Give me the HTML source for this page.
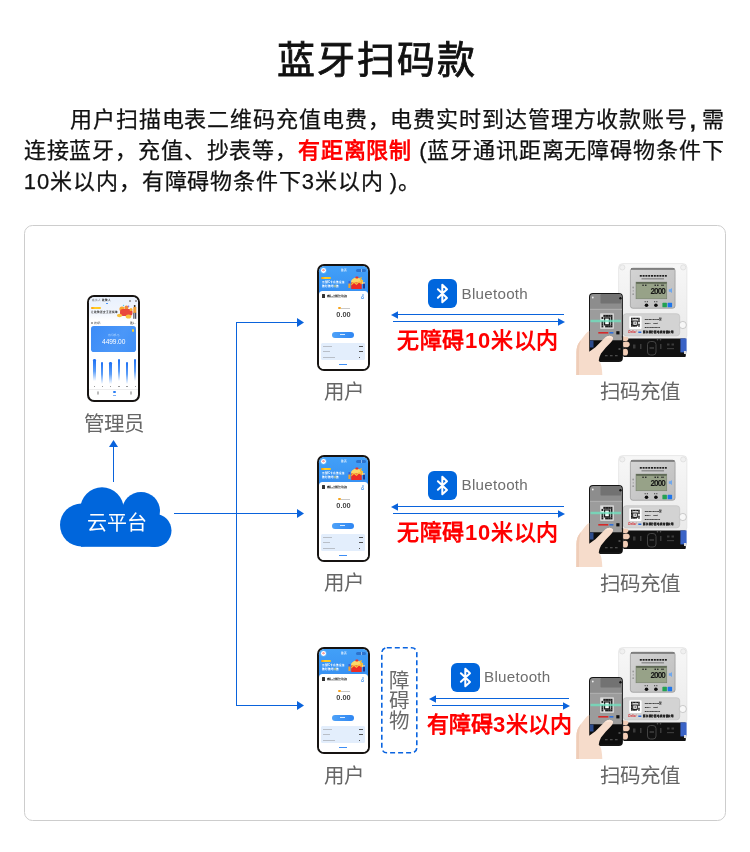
<!DOCTYPE html>
<html lang="zh-CN">
<head>
<meta charset="utf-8">
<style>
*{margin:0;padding:0;box-sizing:border-box}
html,body{width:750px;height:852px;background:#fff;overflow:hidden}
body{position:relative;font-family:"Liberation Sans",sans-serif;color:#111}
.a{position:absolute}
#title{left:2px;width:750px;top:30px;text-align:center;font-size:38px;line-height:60px;color:#111;-webkit-text-stroke:0.8px #111;letter-spacing:2px}
#para{left:23.7px;width:700.3px;top:104px;font-size:22px;line-height:31px;text-indent:46.3px;text-align:justify;color:#111;letter-spacing:0.4px;-webkit-text-stroke:0.25px #111}
#para .l3{letter-spacing:0.85px}
#para .dg{letter-spacing:1.1px}
#para .r{color:#ff0000;font-weight:bold;-webkit-text-stroke:0}
#box{left:24px;top:225px;width:702px;height:596px;border:1.3px solid #cdcdcd;border-radius:8.5px}
.lbl{position:absolute;font-size:20.5px;line-height:24px;color:#666;white-space:nowrap}
.bl{background:#0a63dc}
/* phone */
.up{position:absolute;width:53px;height:107px;background:#161311;border-radius:7px}
.up div{position:absolute}
.up .scr{left:1.9px;top:1.9px;right:1.9px;bottom:1.9px;background:#fff;border-radius:5.2px;overflow:hidden}
.uhd{left:0;top:0;width:100%;height:28px;background:linear-gradient(180deg,#42a0f8,#3790f2)}
.av{left:1.9px;top:2.4px;width:4.8px;height:4.8px;border-radius:50%;background:radial-gradient(circle at 50% 45%,#f6a0a0 0 1px,#fff 1.4px);box-shadow:0 0 0 0.8px #5ab0fa}
.tt{left:0;width:100%;top:3.3px;text-align:center;font-size:2.6px;line-height:3px;color:#fff;font-weight:bold}
.cap{left:37.6px;top:3.2px;width:9.3px;height:3.1px;border-radius:2px;background:#2c72cc}
.capd{left:42.1px;top:3.6px;width:0.4px;height:2.3px;background:#8ab8ee}
.otag{width:9.8px;height:2.4px;border-radius:1.2px;background:linear-gradient(90deg,#ff9800,#ffcf2a 40%,#ffc21a)}
.wt{font-size:2.55px;line-height:4px;letter-spacing:-0.05px;color:#fff;white-space:nowrap;font-weight:bold;transform:translateZ(0)}
.at{font-size:2.5px;line-height:3px;white-space:nowrap;transform:translateZ(0)}
.ill{position:absolute;left:28.5px;top:10.5px}
.ylw{background:#f8d44a}
.xill1{left:30.5px;top:17px;width:12px;height:8px;background:#e5262c;border-radius:1px}
.xill2{left:31px;top:11.3px;width:13px;height:6.5px;background:#f6c344;border-radius:3px 3px 1px 1px}
.xill3{left:27px;top:15px;width:3px;height:9px;background:#f2a33a;border-radius:1px}
.card{left:0;top:25px;width:100%;height:90px;background:#fff;border-radius:3.5px 3.5px 0 0}
.ci{left:3.4px;top:28.4px;width:2.6px;height:4.2px;background:#333;border-radius:0.5px}
.ct{left:8.5px;top:28.7px;font-size:2.1px;line-height:2.5px;font-weight:bold;color:#222;white-space:nowrap;transform:translateZ(0)}
.cs{left:8.7px;top:31.6px;width:13px;height:1px;background:#ccc}
.ph{left:43.1px;top:28.2px;width:1.8px;height:1.8px;border-radius:50%;border:0.6px solid #6aaaf2}
.pb{left:42.6px;top:30.3px;width:2.8px;height:3.2px;border:0.6px solid #6aaaf2;border-radius:1.2px 1.2px 0 0}
.od{left:19.5px;top:41.2px;width:2.2px;height:2.2px;border-radius:50%;background:#f7a41c}
.gt{left:22.5px;top:41.9px;width:8.3px;height:1px;background:#c8c8c8}
.amt{transform:translateZ(0);left:0;width:100%;top:44.7px;text-align:center;font-size:7.4px;line-height:8px;font-weight:bold;color:#444}
.btn{left:12.8px;top:66px;width:22.7px;height:6.3px;border-radius:3.2px;background:linear-gradient(90deg,#4ea2f8,#2f86f2)}
.btt{left:8.8px;top:2.6px;width:5px;height:1px;background:#d8eaff}
.pnl{left:2.6px;top:77.2px;width:43.2px;height:16.7px;border-radius:1.5px;background:#e3eefc}
.pl{left:4.5px;width:9px;height:1px;background:#b9bfc8}
.pr{left:40px;width:4px;height:1.2px;background:#555}
.bt{left:20.5px;top:97.8px;width:7.3px;height:1.2px;background:#3d8ef5}
/* admin */
.ahd{left:0;top:0;width:100%;height:24px;background:linear-gradient(180deg,#e9f1fd,#f2f6fd 70%,#fff)}
.tb{height:1.8px;background:#777}
.ic{width:1.8px;height:1.8px;border-radius:50%;background:#888}
.ai1{left:28.7px;top:11px;width:13px;height:7px;background:#e8473a;border-radius:3px}
.ai2{left:30.5px;top:7.5px;width:10px;height:5px;background:#f6a63a;border-radius:50%}
.ai3{left:28.5px;top:15.5px;width:6px;height:3.8px;background:#f8c84a;border-radius:50%}
.ai4{left:42.8px;top:7px;width:3.5px;height:13px;background:linear-gradient(180deg,#e98a3a,#333);border-radius:1px}
.bc{left:1.8px;top:29px;width:45.3px;height:26.4px;border-radius:2.8px;background:linear-gradient(120deg,#3c8cf7,#4b97f8 60%,#3f8ff7)}
.yd{left:42.6px;top:32.4px;width:2.8px;height:2.8px;border-radius:50%;background:radial-gradient(circle,#f9d030 0 1px,#f2b81a 1.4px)}
.bcl{left:0;width:100%;top:37.6px;text-align:center;font-size:2.2px;line-height:2.5px;color:#a9d0fd;transform:translateZ(0)}
.bamt{transform:translateZ(0);left:0;width:100%;top:40.9px;text-align:center;font-size:6.6px;line-height:7px;color:#fff;letter-spacing:-0.1px}
.bar{width:2.3px;height:22px;border-radius:1.2px 1.2px 0 0;background:linear-gradient(180deg,#1c6ff4,#5c9ef8 55%,rgba(255,255,255,0))}
.xl{top:89.3px;width:1.3px;height:0.8px;background:#999}
.dv{left:0;top:92.5px;width:100%;height:0.6px;background:#eee}
.nv{top:94.5px;width:2px;height:4px;border:0.6px solid #bbb;border-radius:1px}
.nvb{left:24.4px;top:94.2px;width:2.5px;height:2.5px;border-radius:50%;background:#2a7ef5}
.nvl{left:24.2px;top:97.8px;width:3px;height:0.7px;background:#7fb0f5}
/* meter */
.mb{position:absolute;left:618.6px;top:263.6px;width:68.3px;height:76px;background:linear-gradient(180deg,#f6f6f6,#ececec);border-radius:4px;box-shadow:inset 0 0 0 0.6px #ddd}
.scw{position:absolute;width:5px;height:5px;border-radius:50%;border:0.6px solid #d8d8d8;background:#f3f3f3}
.dp{position:absolute;left:630.4px;top:268.2px;width:44.7px;height:40px;border-radius:2.5px;background:linear-gradient(160deg,#cfcfcf,#c2c2c2);border-top:1.2px solid #606060;box-shadow:inset 0 0 0 0.6px #999}
.dpt{position:absolute;left:639.5px;top:275.2px;width:27px;height:1.6px;background:repeating-linear-gradient(90deg,#222 0 2px,#c8c8c8 2px 2.7px)}
.dpt2{position:absolute;left:641px;top:278.5px;width:23px;height:1px;background:#777}
.lcd{position:absolute;left:636px;top:282.1px;width:30.8px;height:16.7px;background:#a9b49b;box-shadow:inset 0 0 0 0.6px #7a8570}
.lcdd{position:absolute;right:2.5px;top:4.2px;font-size:9px;line-height:9px;font-weight:bold;font-style:italic;color:#1a1a1a;letter-spacing:-0.3px}
.lcl{position:absolute;height:1px;background:#333}
.bi{position:absolute;left:669.5px;top:289px;width:2.5px;height:3px;background:#6aa6ef}
.btb{position:absolute;width:3.4px;height:3.4px;border-radius:50%;background:#111}
.bbl{position:absolute;width:3.4px;height:0.9px;background:#333}
.sq{position:absolute;top:302.8px;width:4.4px;height:4.4px;border-radius:0.6px}
.lp{position:absolute;left:623.2px;top:313.7px;width:56.5px;height:22.1px;border-radius:3px;background:#d4d4d4;box-shadow:inset 0 0 0 0.7px #c0c0c0}
.qr{position:absolute;left:629.4px;top:316.3px;width:11.8px;height:12.3px;background:#fff}
.qri{position:absolute;left:1.6px;top:1.6px;width:8.6px;height:9px;background:repeating-linear-gradient(0deg,#222 0 1.2px,#777 1.2px 2px),#333}
.qrc{position:absolute;left:3.7px;top:4px;width:4.4px;height:4.4px;border:1px solid #fff;background:#222}
.lt{position:absolute;left:645px;height:1px;background:linear-gradient(90deg,#666 0 45%,transparent 45% 60%,#666 60%)}
.lg{position:absolute;height:1.5px}
.knob{position:absolute;left:679px;top:321.3px;width:7.4px;height:7.4px;border-radius:50%;border:0.7px solid #bbb;background:#f6f6f6}
.term{position:absolute;left:623.2px;top:338.4px;width:62.6px;height:18.4px;background:#121212;border-radius:0 0 1px 1px}
.tbl{position:absolute;left:680.5px;top:338.4px;width:6px;height:14px;background:linear-gradient(180deg,#3a63c6,#2a4aa0)}
.tc1{position:absolute;left:647.5px;top:342px;width:8.5px;height:13px;border:0.8px solid #555;border-radius:3px}
.tc2{position:absolute;left:633px;top:345px;width:2.5px;height:4px;background:#444}
/* bt */
.bti{position:absolute;width:29px;height:28.5px;border-radius:6px;background:#0066dd}
.bti svg{position:absolute;left:0;top:0}
.btx{position:absolute;font-size:15.2px;line-height:20px;color:#6e6e6e;white-space:nowrap;letter-spacing:0.25px}
.rt{position:absolute;font-size:22px;line-height:30px;font-weight:bold;color:#ff0000;white-space:nowrap}
.obs{position:absolute;left:381px;top:647.4px;width:36px;height:106px;border:1.5px dashed #2a76dc;border-radius:5px}
.obt{position:absolute;left:389px;top:670.8px;width:22px;font-size:20.5px;line-height:20px;color:#6a6a6a}
</style>
</head>
<body>
<div id="root" style="position:absolute;left:0;top:0;width:750px;height:852px;transform:translateZ(0)">
<div id="title" class="a">蓝牙扫码款</div>
<div id="para" class="a">用户扫描电表二维码充值电费，电费实时到达管理方收款账号<span style="font-weight:bold;position:relative;left:1.6px;top:0.5px">,</span> 需连接蓝牙，充值、抄表等，<span class="r">有距离限制</span> (蓝牙通讯距离无障碍物条件下<span class="l3"><span class="dg">10</span>米以内，有障碍物条件下<span class="dg">3</span>米以内<span style="letter-spacing:0px"> </span>)。</span></div>
<div id="box" class="a"></div>

<!-- connectors -->
<div class="a bl" style="left:112.9px;top:446px;width:1.3px;height:36px"></div>
<svg class="a" style="left:108px;top:439px" width="11" height="9"><path d="M5.5 1 L10 8 L1 8Z" fill="#0a63dc"/></svg>
<div class="a bl" style="left:235.9px;top:322px;width:1.3px;height:384px"></div>
<div class="a bl" style="left:235.9px;top:321.8px;width:62px;height:1.3px"></div>
<div class="a bl" style="left:174px;top:512.9px;width:124px;height:1.3px"></div>
<div class="a bl" style="left:235.9px;top:704.8px;width:62px;height:1.3px"></div>
<svg class="a" style="left:296px;top:317px" width="9" height="11"><path d="M1 1 L8 5.5 L1 10Z" fill="#0a63dc"/></svg>
<svg class="a" style="left:296px;top:508px" width="9" height="11"><path d="M1 1 L8 5.5 L1 10Z" fill="#0a63dc"/></svg>
<svg class="a" style="left:296px;top:700px" width="9" height="11"><path d="M1 1 L8 5.5 L1 10Z" fill="#0a63dc"/></svg>

<!-- cloud -->
<svg class="a" style="left:0;top:480px" width="200" height="80" viewBox="0 480 200 80">
<g fill="#0066dc">
<circle cx="81.5" cy="525" r="21.5"/>
<circle cx="102" cy="509" r="21.7"/>
<circle cx="141" cy="511" r="19"/>
<circle cx="155" cy="530.5" r="16.5"/>
<rect x="81" y="510" width="74" height="36.8"/>
</g>
</svg>
<div class="a" style="left:60.6px;width:112px;top:510.8px;text-align:center;font-size:20px;line-height:24px;color:#fff">云平台</div>

<div class="up" style="left:87.2px;top:294.9px">
<div class="scr">
<div class="ahd"></div>
<div class="at" style="left:2.6px;top:2.2px;color:#555">充值人</div>
<div class="at" style="left:13px;top:2.2px;color:#222;font-weight:bold">收款人</div>
<div class="bl" style="position:absolute;left:16.5px;top:6.2px;width:2.6px;height:0.9px;border-radius:1px;background:#3b8cf5"></div>
<div class="ic" style="left:40.2px;top:3.3px"></div><div class="ic" style="left:45.7px;top:3.3px"></div>
<div class="otag" style="left:1.6px;top:10.3px;width:10.4px"></div>
<div class="at" style="left:1.6px;top:14.6px;color:#333;font-weight:bold;font-size:2.6px">让收款更安全更简单</div>
<svg class="ill" style="left:26.5px;top:7px" width="22" height="16" viewBox="0 0 22 16">
<circle cx="6" cy="5" r="2.6" fill="#f7a531"/><circle cx="10.5" cy="3.5" r="2" fill="#f08a3a"/>
<rect x="4" y="5" width="12.5" height="7" rx="3" fill="#e9473b"/>
<ellipse cx="3.5" cy="11.5" rx="2.6" ry="1.8" fill="#f8c23d"/>
<ellipse cx="12.5" cy="12.5" rx="2.8" ry="2" fill="#f8c23d"/>
<circle cx="15" cy="5.5" r="1.5" fill="#f6b23a"/>
<circle cx="12.5" cy="2.2" r="0.8" fill="#8c6ae8"/><circle cx="7.5" cy="1.5" r="0.7" fill="#5cc8e8"/>
<rect x="17.8" y="1" width="1.8" height="2" rx="0.8" fill="#3a2a1a"/>
<rect x="17.3" y="3" width="3" height="6" fill="#f0a03a"/>
<rect x="17.4" y="8.8" width="1" height="6" fill="#2a2a3a"/><rect x="19.2" y="8.8" width="1" height="6" fill="#2a2a3a"/>
</svg>
<div class="ic" style="left:1.7px;top:25.3px;width:2.2px;height:2.2px;background:#fff;border:0.5px solid #666"></div>
<div class="at" style="left:4.8px;top:25px;color:#555;font-size:2.4px">收款码</div>
<div class="at" style="left:40.5px;top:25px;color:#333;font-size:2.4px">更多 &gt;</div>
<div class="bc"></div><div class="yd"></div>
<div class="bcl">账户余额(元)</div>
<div class="bamt">4499.00</div>
<div class="bar" style="left:4.2px;top:62.4px"></div>
<div class="bar" style="left:12.1px;top:65px"></div>
<div class="bar" style="left:20.4px;top:65px"></div>
<div class="bar" style="left:28.7px;top:62.4px"></div>
<div class="bar" style="left:36.7px;top:65px"></div>
<div class="bar" style="left:45px;top:62.4px"></div>
<div class="xl" style="left:4.8px"></div><div class="xl" style="left:12.7px"></div><div class="xl" style="left:21px"></div>
<div class="xl" style="left:29.3px"></div><div class="xl" style="left:37.3px"></div><div class="xl" style="left:45.6px"></div>
<div class="dv"></div>
<div class="nv" style="left:7.5px"></div>
<div class="nvb"></div><div class="nvl"></div>
<div class="nv" style="left:40.5px"></div>
</div></div>
<div class="lbl" style="left:84px;top:411.5px">管理员</div>

<div class="up" style="left:317px;top:264px">
<div class="scr">
<div class="uhd"></div>
<div class="av"></div><div class="tt">首页</div><div class="cap"></div><div class="capd"></div>
<div class="otag" style="left:2.6px;top:11.2px"></div>
<div class="wt" style="left:2.8px;top:14.8px">无需IC卡充值设备</div>
<div class="wt" style="left:2.8px;top:19.3px">随时随地<span style="color:#f9dc5c">充</span>值</div>
<svg class="ill" width="20" height="14" viewBox="0 0 20 14">
<rect x="1.5" y="5" width="1.8" height="3" fill="#3a63d6"/><rect x="1.4" y="7.5" width="2" height="4.5" fill="#f4a12c"/>
<path d="M4 5 Q6 1.5 9.5 1.5 Q13 1.5 15.5 4 L16.5 8 L4.5 8Z" fill="#fbd86a"/>
<rect x="8.3" y="0.5" width="3.2" height="2" rx="1" fill="#e8302b"/>
<rect x="4.2" y="6.5" width="10.5" height="6.5" fill="#ec2b26"/>
<path d="M4.2 9.5 L7 7 L9.5 9 L12 6.5 L14.7 8.5 L14.7 7 L12 5 L9.5 7.4 L7 5.5 L4.2 8Z" fill="#f8c23d"/>
<path d="M12.5 2 L15 1 L14 4 L16.5 4.5 L14 7 Z" fill="#f6b72f"/>
<rect x="16" y="7.5" width="2" height="5" fill="#243a8e"/><circle cx="17" cy="6.8" r="0.9" fill="#f1c7a2"/>
</svg>
<div class="card"></div>
<div class="ci"></div><div class="ct">睿眼IC卡缴费专用设备</div><div class="cs"></div>
<div class="ph"></div><div class="pb"></div>
<div class="od"></div><div class="gt"></div>
<div class="amt">0.00</div>
<div class="btn"><div class="btt"></div></div>
<div class="pnl"></div>
<div class="pl" style="top:80px"></div><div class="pr" style="top:80px"></div>
<div class="pl" style="top:85.1px;width:7px"></div><div class="pr" style="top:85.1px;width:4.5px"></div>
<div class="pl" style="top:90.7px;width:12px"></div><div class="pr" style="top:90.7px;width:1.5px"></div>
<div class="bt"></div>
</div></div>
<div class="up" style="left:317px;top:455px">
<div class="scr">
<div class="uhd"></div>
<div class="av"></div><div class="tt">首页</div><div class="cap"></div><div class="capd"></div>
<div class="otag" style="left:2.6px;top:11.2px"></div>
<div class="wt" style="left:2.8px;top:14.8px">无需IC卡充值设备</div>
<div class="wt" style="left:2.8px;top:19.3px">随时随地<span style="color:#f9dc5c">充</span>值</div>
<svg class="ill" width="20" height="14" viewBox="0 0 20 14">
<rect x="1.5" y="5" width="1.8" height="3" fill="#3a63d6"/><rect x="1.4" y="7.5" width="2" height="4.5" fill="#f4a12c"/>
<path d="M4 5 Q6 1.5 9.5 1.5 Q13 1.5 15.5 4 L16.5 8 L4.5 8Z" fill="#fbd86a"/>
<rect x="8.3" y="0.5" width="3.2" height="2" rx="1" fill="#e8302b"/>
<rect x="4.2" y="6.5" width="10.5" height="6.5" fill="#ec2b26"/>
<path d="M4.2 9.5 L7 7 L9.5 9 L12 6.5 L14.7 8.5 L14.7 7 L12 5 L9.5 7.4 L7 5.5 L4.2 8Z" fill="#f8c23d"/>
<path d="M12.5 2 L15 1 L14 4 L16.5 4.5 L14 7 Z" fill="#f6b72f"/>
<rect x="16" y="7.5" width="2" height="5" fill="#243a8e"/><circle cx="17" cy="6.8" r="0.9" fill="#f1c7a2"/>
</svg>
<div class="card"></div>
<div class="ci"></div><div class="ct">睿眼IC卡缴费专用设备</div><div class="cs"></div>
<div class="ph"></div><div class="pb"></div>
<div class="od"></div><div class="gt"></div>
<div class="amt">0.00</div>
<div class="btn"><div class="btt"></div></div>
<div class="pnl"></div>
<div class="pl" style="top:80px"></div><div class="pr" style="top:80px"></div>
<div class="pl" style="top:85.1px;width:7px"></div><div class="pr" style="top:85.1px;width:4.5px"></div>
<div class="pl" style="top:90.7px;width:12px"></div><div class="pr" style="top:90.7px;width:1.5px"></div>
<div class="bt"></div>
</div></div>
<div class="up" style="left:317px;top:647px">
<div class="scr">
<div class="uhd"></div>
<div class="av"></div><div class="tt">首页</div><div class="cap"></div><div class="capd"></div>
<div class="otag" style="left:2.6px;top:11.2px"></div>
<div class="wt" style="left:2.8px;top:14.8px">无需IC卡充值设备</div>
<div class="wt" style="left:2.8px;top:19.3px">随时随地<span style="color:#f9dc5c">充</span>值</div>
<svg class="ill" width="20" height="14" viewBox="0 0 20 14">
<rect x="1.5" y="5" width="1.8" height="3" fill="#3a63d6"/><rect x="1.4" y="7.5" width="2" height="4.5" fill="#f4a12c"/>
<path d="M4 5 Q6 1.5 9.5 1.5 Q13 1.5 15.5 4 L16.5 8 L4.5 8Z" fill="#fbd86a"/>
<rect x="8.3" y="0.5" width="3.2" height="2" rx="1" fill="#e8302b"/>
<rect x="4.2" y="6.5" width="10.5" height="6.5" fill="#ec2b26"/>
<path d="M4.2 9.5 L7 7 L9.5 9 L12 6.5 L14.7 8.5 L14.7 7 L12 5 L9.5 7.4 L7 5.5 L4.2 8Z" fill="#f8c23d"/>
<path d="M12.5 2 L15 1 L14 4 L16.5 4.5 L14 7 Z" fill="#f6b72f"/>
<rect x="16" y="7.5" width="2" height="5" fill="#243a8e"/><circle cx="17" cy="6.8" r="0.9" fill="#f1c7a2"/>
</svg>
<div class="card"></div>
<div class="ci"></div><div class="ct">睿眼IC卡缴费专用设备</div><div class="cs"></div>
<div class="ph"></div><div class="pb"></div>
<div class="od"></div><div class="gt"></div>
<div class="amt">0.00</div>
<div class="btn"><div class="btt"></div></div>
<div class="pnl"></div>
<div class="pl" style="top:80px"></div><div class="pr" style="top:80px"></div>
<div class="pl" style="top:85.1px;width:7px"></div><div class="pr" style="top:85.1px;width:4.5px"></div>
<div class="pl" style="top:90.7px;width:12px"></div><div class="pr" style="top:90.7px;width:1.5px"></div>
<div class="bt"></div>
</div></div>
<div class="lbl" style="left:324px;top:380px">用户</div>
<div class="lbl" style="left:324px;top:571px">用户</div>
<div class="lbl" style="left:324px;top:763.5px">用户</div>

<svg class="a" style="left:560px;top:255px;transform:translateZ(0)" width="135" height="125" viewBox="560 255 135 125">
<defs>
<linearGradient id="mbg0" x1="0" y1="0" x2="0" y2="1"><stop offset="0" stop-color="#f7f7f7"/><stop offset="1" stop-color="#eaeaea"/></linearGradient>
<linearGradient id="dpg0" x1="0" y1="0" x2="1" y2="1"><stop offset="0" stop-color="#d4d4d4"/><stop offset="1" stop-color="#bdbdbd"/></linearGradient>
<linearGradient id="scr0" x1="0" y1="0" x2="0" y2="1"><stop offset="0" stop-color="#8c8c8c"/><stop offset="1" stop-color="#9d9d9d"/></linearGradient>
</defs>
<!-- meter body -->
<rect x="618.6" y="263.6" width="68.3" height="76" rx="4" fill="url(#mbg0)" stroke="#dcdcdc" stroke-width="0.6"/>
<circle cx="622.3" cy="267.4" r="2.6" fill="#f0f0f0" stroke="#d6d6d6" stroke-width="0.6"/>
<circle cx="683.2" cy="267.4" r="2.6" fill="#f0f0f0" stroke="#d6d6d6" stroke-width="0.6"/>
<rect x="630.4" y="268.2" width="44.7" height="40.1" rx="2.5" fill="url(#dpg0)" stroke="#8a8a8a" stroke-width="0.6"/>
<rect x="631" y="268.4" width="43.5" height="1.2" fill="#5a5a5a"/>
<g fill="#1e1e1e"><rect x="639.8" y="275" width="2" height="1.7"/><rect x="642.6" y="275" width="2" height="1.7"/><rect x="645.4" y="275" width="2" height="1.7"/><rect x="648.2" y="275" width="2" height="1.7"/><rect x="651" y="275" width="2" height="1.7"/><rect x="653.8" y="275" width="2" height="1.7"/><rect x="656.6" y="275" width="2" height="1.7"/><rect x="659.4" y="275" width="2" height="1.7"/><rect x="662.2" y="275" width="2" height="1.7"/><rect x="665" y="275" width="1.8" height="1.7"/></g>
<rect x="641.5" y="278.4" width="22.5" height="0.9" fill="#6a6a6a"/>
<rect x="636" y="282.1" width="30.8" height="16.7" fill="#97a288" stroke="#6e7864" stroke-width="0.5"/><rect x="636.2" y="282.3" width="30.4" height="1.3" fill="#4f5947"/>
<g fill="#2e2e2e"><rect x="642.3" y="284.6" width="1.5" height="1.4"/><rect x="645" y="284.6" width="1.5" height="1.4"/><rect x="654.5" y="284.6" width="1.5" height="1.4"/><rect x="657" y="284.6" width="1.5" height="1.4"/><rect x="661" y="284.6" width="3" height="1.4" opacity="0.7"/></g>
<text x="665" y="294.2" text-anchor="end" font-family="Liberation Sans" font-weight="bold" font-size="8.2" fill="#141414" letter-spacing="-0.9">2000</text>
<g fill="#9a9a9a"><circle cx="633.2" cy="287.5" r="0.9"/><rect x="632.8" y="290" width="0.8" height="1.6"/><circle cx="633.2" cy="294.2" r="0.9"/></g>
<path d="M668.8 289.3 L670.3 289.3 L672 288 L672 293 L670.3 291.7 L668.8 291.7Z" fill="#6fa8ee"/>
<g fill="#333"><rect x="644.6" y="301.3" width="1.2" height="0.9"/><rect x="646.8" y="301.3" width="1.2" height="0.9"/><rect x="654" y="301.3" width="1.2" height="0.9"/><rect x="656.2" y="301.3" width="1.2" height="0.9"/></g>
<circle cx="646.5" cy="305.3" r="1.8" fill="#0d0d0d"/><circle cx="655.9" cy="305.3" r="1.8" fill="#0d0d0d"/>
<rect x="662.4" y="302.8" width="4.5" height="4.5" rx="0.6" fill="#23a152"/><rect x="667.6" y="302.8" width="4.5" height="4.5" rx="0.6" fill="#1f76ea"/>
<!-- label plate -->
<rect x="623.2" y="313.7" width="56.5" height="22.1" rx="3" fill="#d3d3d3" stroke="#bdbdbd" stroke-width="0.6"/>
<rect x="629.3" y="316.2" width="12.3" height="12.7" rx="0.8" fill="#fff"/>
<g fill="#161616"><rect x="631.00" y="317.70" width="1.45" height="1.5"/><rect x="631.00" y="319.20" width="1.45" height="1.5"/><rect x="631.00" y="320.70" width="1.45" height="1.5"/><rect x="631.00" y="322.20" width="1.45" height="1.5"/><rect x="631.00" y="323.70" width="1.45" height="1.5"/><rect x="631.00" y="325.20" width="1.45" height="1.5"/><rect x="632.45" y="317.70" width="1.45" height="1.5"/><rect x="632.45" y="325.20" width="1.45" height="1.5"/><rect x="633.90" y="317.70" width="1.45" height="1.5"/><rect x="633.90" y="325.20" width="1.45" height="1.5"/><rect x="635.35" y="317.70" width="1.45" height="1.5"/><rect x="635.35" y="325.20" width="1.45" height="1.5"/><rect x="636.80" y="317.70" width="1.45" height="1.5"/><rect x="638.25" y="317.70" width="1.45" height="1.5"/><rect x="638.25" y="319.20" width="1.45" height="1.5"/><rect x="638.25" y="320.70" width="1.45" height="1.5"/><rect x="638.25" y="323.70" width="1.45" height="1.5"/><rect x="638.25" y="325.20" width="1.45" height="1.5"/></g>
<rect x="632.3" y="320.5" width="5.5" height="5.3" fill="#111"/><rect x="633.3" y="321.5" width="3.5" height="3.3" fill="#fff"/><rect x="634.4" y="322.6" width="1.6" height="0.9" fill="#111"/>
<g font-family="Liberation Sans" font-size="2.5" fill="#2a2a2a" stroke="#2a2a2a" stroke-width="0.15"><text x="644.8" y="320.3">DDSD-R1/11型</text><text x="644.8" y="324.1">220V</text><text x="653.5" y="324.1">60A</text><text x="644.8" y="327.8">50Hz</text><text x="650.5" y="327.8">1600imp</text></g>
<text x="628.3" y="333.4" font-family="Liberation Sans" font-size="3" font-weight="bold" font-style="italic" fill="#d8232b">Delixi</text><rect x="638.3" y="331.5" width="3" height="1.5" fill="#2a6ad8"/>
<text x="643" y="333.3" font-family="Liberation Sans" font-size="2.6" font-weight="bold" fill="#222" stroke="#222" stroke-width="0.3" textLength="31" lengthAdjust="spacingAndGlyphs">浙江德力西电表有限公司</text>
<circle cx="682.8" cy="325" r="3.6" fill="#f7f7f7" stroke="#b8b8b8" stroke-width="0.7"/>
<!-- terminal -->
<rect x="623.2" y="338.4" width="62.6" height="18.6" rx="1" fill="#111"/>
<rect x="680.4" y="338.4" width="6.2" height="14" fill="#3a63c6"/>
<rect x="684" y="351" width="2.6" height="3" fill="#ddd"/>
<rect x="647.5" y="341.5" width="8.5" height="13.5" rx="3" fill="none" stroke="#4a4a4a" stroke-width="0.9"/>
<rect x="649.5" y="347" width="4.5" height="2" fill="#333"/>
<g fill="#3a3a3a"><rect x="633" y="344.5" width="2.5" height="4"/><rect x="640" y="344" width="1.5" height="5"/><rect x="660" y="344" width="1.5" height="5"/><rect x="667" y="343.5" width="2.5" height="2"/><rect x="671.5" y="343.5" width="2.5" height="2"/><rect x="667" y="348" width="7" height="1.2"/></g>
<g fill="#555"><circle cx="657.5" cy="339.8" r="0.8"/><circle cx="660.5" cy="339.8" r="0.8"/></g>
<!-- phone -->
<rect x="589" y="293.1" width="33.9" height="69" rx="4" fill="#161616"/>
<rect x="590" y="294.1" width="31.9" height="67" rx="3.2" fill="#1b1b1b"/>
<path d="M590 308.5 L590 297.3 Q590 294.1 593.2 294.1 L618.7 294.1 Q621.9 294.1 621.9 297.3 L621.9 308.5Z" fill="#8d8d8d"/>
<rect x="600.5" y="294.1" width="20.5" height="9.5" rx="1.2" fill="#727272"/>
<circle cx="592.8" cy="297.5" r="0.9" fill="#eee"/>
<circle cx="620.5" cy="298.3" r="1.2" fill="#111"/>
<rect x="590" y="308.5" width="31.9" height="32" fill="#9c9c9c"/>
<rect x="590" y="308.5" width="31.9" height="1.5" fill="#adadad"/>
<rect x="600" y="313.3" width="14" height="15.6" rx="0.8" fill="#d2d2d2"/>
<rect x="601.2" y="314.5" width="11.6" height="13.2" fill="#e6e6e6"/>
<g fill="#1d1d1d"><rect x="601.50" y="316.90" width="1.83" height="2.1"/><rect x="601.50" y="321.10" width="1.83" height="2.1"/><rect x="601.50" y="323.20" width="1.83" height="2.1"/><rect x="601.50" y="325.30" width="1.83" height="2.1"/><rect x="603.33" y="314.80" width="1.83" height="2.1"/><rect x="605.16" y="314.80" width="1.83" height="2.1"/><rect x="605.16" y="325.30" width="1.83" height="2.1"/><rect x="606.99" y="314.80" width="1.83" height="2.1"/><rect x="606.99" y="325.30" width="1.83" height="2.1"/><rect x="608.82" y="314.80" width="1.83" height="2.1"/><rect x="608.82" y="325.30" width="1.83" height="2.1"/><rect x="610.65" y="314.80" width="1.83" height="2.1"/><rect x="610.65" y="316.90" width="1.83" height="2.1"/><rect x="610.65" y="319.00" width="1.83" height="2.1"/><rect x="610.65" y="321.10" width="1.83" height="2.1"/><rect x="610.65" y="323.20" width="1.83" height="2.1"/><rect x="610.65" y="325.30" width="1.83" height="2.1"/></g>
<rect x="604" y="317.3" width="6" height="8.2" fill="#1a1a1a"/><rect x="605.2" y="318.6" width="3.6" height="5.6" fill="#fafafa"/>
<rect x="590.5" y="320.2" width="30.5" height="1.6" fill="#6ee3bf" opacity="0.85"/>
<rect x="590.5" y="319.2" width="30.5" height="3.6" fill="#6ee3bf" opacity="0.25"/>
<rect x="598.3" y="332" width="10" height="1.6" fill="#d42a2a"/>
<rect x="609.4" y="332" width="4" height="1.6" fill="#3070d8"/>
<rect x="616.3" y="331.2" width="3.2" height="3.2" fill="#111"/>
<rect x="590" y="340.5" width="31.9" height="20" fill="#0e0e0e"/>
<rect x="590" y="340.5" width="3.5" height="7" fill="#2c4b8c"/>
<g fill="#4a4a4a"><rect x="605" y="355" width="2.6" height="1.3"/><rect x="610" y="355" width="2.6" height="1.3"/><rect x="615" y="355" width="2.6" height="1.3"/><rect x="618.5" y="348" width="2" height="2"/></g>
<!-- hand -->
<path d="M576.3 375 L576.4 352 Q576.5 345.5 579.8 341.5 L585.5 334 Q587.5 331.5 589.2 331 L589.2 351.8 L595.4 347.2 L604.9 337.7 Q607.8 335.5 610.4 335.9 Q613.3 336.5 613 338.8 Q612.7 340.6 611 342.2 L605.9 347.6 L601 353.6 Q599 357.5 598.7 360.5 L600.2 362.4 Q602 366 602.3 375Z" fill="#f6dccb"/>
<path d="M576.3 375 L576.4 352 Q576.5 345.5 579.8 341.5 L581 340 Q579 346 579 352 L579 375Z" fill="#efcdb8"/>
<path d="M604.9 337.7 Q607.8 335.5 610.4 335.9 Q613.3 336.5 613 338.8 Q611 337.2 607.5 338.2Z" fill="#fbe6d8"/>
<ellipse cx="625" cy="338.7" rx="3.4" ry="2.3" fill="#f2cdb6"/>
<ellipse cx="626" cy="344.4" rx="3.7" ry="2.8" fill="#f2cdb6"/>
<ellipse cx="625.2" cy="352.2" rx="2.8" ry="3.4" fill="#f2cdb6"/>
<rect x="621.9" y="336" width="1.2" height="20" fill="#161616"/>
</svg>
<svg class="a" style="left:560px;top:447px;transform:translateZ(0)" width="135" height="125" viewBox="560 255 135 125">
<defs>
<linearGradient id="mbg192" x1="0" y1="0" x2="0" y2="1"><stop offset="0" stop-color="#f7f7f7"/><stop offset="1" stop-color="#eaeaea"/></linearGradient>
<linearGradient id="dpg192" x1="0" y1="0" x2="1" y2="1"><stop offset="0" stop-color="#d4d4d4"/><stop offset="1" stop-color="#bdbdbd"/></linearGradient>
<linearGradient id="scr192" x1="0" y1="0" x2="0" y2="1"><stop offset="0" stop-color="#8c8c8c"/><stop offset="1" stop-color="#9d9d9d"/></linearGradient>
</defs>
<!-- meter body -->
<rect x="618.6" y="263.6" width="68.3" height="76" rx="4" fill="url(#mbg192)" stroke="#dcdcdc" stroke-width="0.6"/>
<circle cx="622.3" cy="267.4" r="2.6" fill="#f0f0f0" stroke="#d6d6d6" stroke-width="0.6"/>
<circle cx="683.2" cy="267.4" r="2.6" fill="#f0f0f0" stroke="#d6d6d6" stroke-width="0.6"/>
<rect x="630.4" y="268.2" width="44.7" height="40.1" rx="2.5" fill="url(#dpg192)" stroke="#8a8a8a" stroke-width="0.6"/>
<rect x="631" y="268.4" width="43.5" height="1.2" fill="#5a5a5a"/>
<g fill="#1e1e1e"><rect x="639.8" y="275" width="2" height="1.7"/><rect x="642.6" y="275" width="2" height="1.7"/><rect x="645.4" y="275" width="2" height="1.7"/><rect x="648.2" y="275" width="2" height="1.7"/><rect x="651" y="275" width="2" height="1.7"/><rect x="653.8" y="275" width="2" height="1.7"/><rect x="656.6" y="275" width="2" height="1.7"/><rect x="659.4" y="275" width="2" height="1.7"/><rect x="662.2" y="275" width="2" height="1.7"/><rect x="665" y="275" width="1.8" height="1.7"/></g>
<rect x="641.5" y="278.4" width="22.5" height="0.9" fill="#6a6a6a"/>
<rect x="636" y="282.1" width="30.8" height="16.7" fill="#97a288" stroke="#6e7864" stroke-width="0.5"/><rect x="636.2" y="282.3" width="30.4" height="1.3" fill="#4f5947"/>
<g fill="#2e2e2e"><rect x="642.3" y="284.6" width="1.5" height="1.4"/><rect x="645" y="284.6" width="1.5" height="1.4"/><rect x="654.5" y="284.6" width="1.5" height="1.4"/><rect x="657" y="284.6" width="1.5" height="1.4"/><rect x="661" y="284.6" width="3" height="1.4" opacity="0.7"/></g>
<text x="665" y="294.2" text-anchor="end" font-family="Liberation Sans" font-weight="bold" font-size="8.2" fill="#141414" letter-spacing="-0.9">2000</text>
<g fill="#9a9a9a"><circle cx="633.2" cy="287.5" r="0.9"/><rect x="632.8" y="290" width="0.8" height="1.6"/><circle cx="633.2" cy="294.2" r="0.9"/></g>
<path d="M668.8 289.3 L670.3 289.3 L672 288 L672 293 L670.3 291.7 L668.8 291.7Z" fill="#6fa8ee"/>
<g fill="#333"><rect x="644.6" y="301.3" width="1.2" height="0.9"/><rect x="646.8" y="301.3" width="1.2" height="0.9"/><rect x="654" y="301.3" width="1.2" height="0.9"/><rect x="656.2" y="301.3" width="1.2" height="0.9"/></g>
<circle cx="646.5" cy="305.3" r="1.8" fill="#0d0d0d"/><circle cx="655.9" cy="305.3" r="1.8" fill="#0d0d0d"/>
<rect x="662.4" y="302.8" width="4.5" height="4.5" rx="0.6" fill="#23a152"/><rect x="667.6" y="302.8" width="4.5" height="4.5" rx="0.6" fill="#1f76ea"/>
<!-- label plate -->
<rect x="623.2" y="313.7" width="56.5" height="22.1" rx="3" fill="#d3d3d3" stroke="#bdbdbd" stroke-width="0.6"/>
<rect x="629.3" y="316.2" width="12.3" height="12.7" rx="0.8" fill="#fff"/>
<g fill="#161616"><rect x="631.00" y="317.70" width="1.45" height="1.5"/><rect x="631.00" y="319.20" width="1.45" height="1.5"/><rect x="631.00" y="320.70" width="1.45" height="1.5"/><rect x="631.00" y="322.20" width="1.45" height="1.5"/><rect x="631.00" y="323.70" width="1.45" height="1.5"/><rect x="631.00" y="325.20" width="1.45" height="1.5"/><rect x="632.45" y="317.70" width="1.45" height="1.5"/><rect x="632.45" y="325.20" width="1.45" height="1.5"/><rect x="633.90" y="317.70" width="1.45" height="1.5"/><rect x="633.90" y="325.20" width="1.45" height="1.5"/><rect x="635.35" y="317.70" width="1.45" height="1.5"/><rect x="635.35" y="325.20" width="1.45" height="1.5"/><rect x="636.80" y="317.70" width="1.45" height="1.5"/><rect x="638.25" y="317.70" width="1.45" height="1.5"/><rect x="638.25" y="319.20" width="1.45" height="1.5"/><rect x="638.25" y="320.70" width="1.45" height="1.5"/><rect x="638.25" y="323.70" width="1.45" height="1.5"/><rect x="638.25" y="325.20" width="1.45" height="1.5"/></g>
<rect x="632.3" y="320.5" width="5.5" height="5.3" fill="#111"/><rect x="633.3" y="321.5" width="3.5" height="3.3" fill="#fff"/><rect x="634.4" y="322.6" width="1.6" height="0.9" fill="#111"/>
<g font-family="Liberation Sans" font-size="2.5" fill="#2a2a2a" stroke="#2a2a2a" stroke-width="0.15"><text x="644.8" y="320.3">DDSD-R1/11型</text><text x="644.8" y="324.1">220V</text><text x="653.5" y="324.1">60A</text><text x="644.8" y="327.8">50Hz</text><text x="650.5" y="327.8">1600imp</text></g>
<text x="628.3" y="333.4" font-family="Liberation Sans" font-size="3" font-weight="bold" font-style="italic" fill="#d8232b">Delixi</text><rect x="638.3" y="331.5" width="3" height="1.5" fill="#2a6ad8"/>
<text x="643" y="333.3" font-family="Liberation Sans" font-size="2.6" font-weight="bold" fill="#222" stroke="#222" stroke-width="0.3" textLength="31" lengthAdjust="spacingAndGlyphs">浙江德力西电表有限公司</text>
<circle cx="682.8" cy="325" r="3.6" fill="#f7f7f7" stroke="#b8b8b8" stroke-width="0.7"/>
<!-- terminal -->
<rect x="623.2" y="338.4" width="62.6" height="18.6" rx="1" fill="#111"/>
<rect x="680.4" y="338.4" width="6.2" height="14" fill="#3a63c6"/>
<rect x="684" y="351" width="2.6" height="3" fill="#ddd"/>
<rect x="647.5" y="341.5" width="8.5" height="13.5" rx="3" fill="none" stroke="#4a4a4a" stroke-width="0.9"/>
<rect x="649.5" y="347" width="4.5" height="2" fill="#333"/>
<g fill="#3a3a3a"><rect x="633" y="344.5" width="2.5" height="4"/><rect x="640" y="344" width="1.5" height="5"/><rect x="660" y="344" width="1.5" height="5"/><rect x="667" y="343.5" width="2.5" height="2"/><rect x="671.5" y="343.5" width="2.5" height="2"/><rect x="667" y="348" width="7" height="1.2"/></g>
<g fill="#555"><circle cx="657.5" cy="339.8" r="0.8"/><circle cx="660.5" cy="339.8" r="0.8"/></g>
<!-- phone -->
<rect x="589" y="293.1" width="33.9" height="69" rx="4" fill="#161616"/>
<rect x="590" y="294.1" width="31.9" height="67" rx="3.2" fill="#1b1b1b"/>
<path d="M590 308.5 L590 297.3 Q590 294.1 593.2 294.1 L618.7 294.1 Q621.9 294.1 621.9 297.3 L621.9 308.5Z" fill="#8d8d8d"/>
<rect x="600.5" y="294.1" width="20.5" height="9.5" rx="1.2" fill="#727272"/>
<circle cx="592.8" cy="297.5" r="0.9" fill="#eee"/>
<circle cx="620.5" cy="298.3" r="1.2" fill="#111"/>
<rect x="590" y="308.5" width="31.9" height="32" fill="#9c9c9c"/>
<rect x="590" y="308.5" width="31.9" height="1.5" fill="#adadad"/>
<rect x="600" y="313.3" width="14" height="15.6" rx="0.8" fill="#d2d2d2"/>
<rect x="601.2" y="314.5" width="11.6" height="13.2" fill="#e6e6e6"/>
<g fill="#1d1d1d"><rect x="601.50" y="316.90" width="1.83" height="2.1"/><rect x="601.50" y="321.10" width="1.83" height="2.1"/><rect x="601.50" y="323.20" width="1.83" height="2.1"/><rect x="601.50" y="325.30" width="1.83" height="2.1"/><rect x="603.33" y="314.80" width="1.83" height="2.1"/><rect x="605.16" y="314.80" width="1.83" height="2.1"/><rect x="605.16" y="325.30" width="1.83" height="2.1"/><rect x="606.99" y="314.80" width="1.83" height="2.1"/><rect x="606.99" y="325.30" width="1.83" height="2.1"/><rect x="608.82" y="314.80" width="1.83" height="2.1"/><rect x="608.82" y="325.30" width="1.83" height="2.1"/><rect x="610.65" y="314.80" width="1.83" height="2.1"/><rect x="610.65" y="316.90" width="1.83" height="2.1"/><rect x="610.65" y="319.00" width="1.83" height="2.1"/><rect x="610.65" y="321.10" width="1.83" height="2.1"/><rect x="610.65" y="323.20" width="1.83" height="2.1"/><rect x="610.65" y="325.30" width="1.83" height="2.1"/></g>
<rect x="604" y="317.3" width="6" height="8.2" fill="#1a1a1a"/><rect x="605.2" y="318.6" width="3.6" height="5.6" fill="#fafafa"/>
<rect x="590.5" y="320.2" width="30.5" height="1.6" fill="#6ee3bf" opacity="0.85"/>
<rect x="590.5" y="319.2" width="30.5" height="3.6" fill="#6ee3bf" opacity="0.25"/>
<rect x="598.3" y="332" width="10" height="1.6" fill="#d42a2a"/>
<rect x="609.4" y="332" width="4" height="1.6" fill="#3070d8"/>
<rect x="616.3" y="331.2" width="3.2" height="3.2" fill="#111"/>
<rect x="590" y="340.5" width="31.9" height="20" fill="#0e0e0e"/>
<rect x="590" y="340.5" width="3.5" height="7" fill="#2c4b8c"/>
<g fill="#4a4a4a"><rect x="605" y="355" width="2.6" height="1.3"/><rect x="610" y="355" width="2.6" height="1.3"/><rect x="615" y="355" width="2.6" height="1.3"/><rect x="618.5" y="348" width="2" height="2"/></g>
<!-- hand -->
<path d="M576.3 375 L576.4 352 Q576.5 345.5 579.8 341.5 L585.5 334 Q587.5 331.5 589.2 331 L589.2 351.8 L595.4 347.2 L604.9 337.7 Q607.8 335.5 610.4 335.9 Q613.3 336.5 613 338.8 Q612.7 340.6 611 342.2 L605.9 347.6 L601 353.6 Q599 357.5 598.7 360.5 L600.2 362.4 Q602 366 602.3 375Z" fill="#f6dccb"/>
<path d="M576.3 375 L576.4 352 Q576.5 345.5 579.8 341.5 L581 340 Q579 346 579 352 L579 375Z" fill="#efcdb8"/>
<path d="M604.9 337.7 Q607.8 335.5 610.4 335.9 Q613.3 336.5 613 338.8 Q611 337.2 607.5 338.2Z" fill="#fbe6d8"/>
<ellipse cx="625" cy="338.7" rx="3.4" ry="2.3" fill="#f2cdb6"/>
<ellipse cx="626" cy="344.4" rx="3.7" ry="2.8" fill="#f2cdb6"/>
<ellipse cx="625.2" cy="352.2" rx="2.8" ry="3.4" fill="#f2cdb6"/>
<rect x="621.9" y="336" width="1.2" height="20" fill="#161616"/>
</svg>
<svg class="a" style="left:560px;top:639px;transform:translateZ(0)" width="135" height="125" viewBox="560 255 135 125">
<defs>
<linearGradient id="mbg384" x1="0" y1="0" x2="0" y2="1"><stop offset="0" stop-color="#f7f7f7"/><stop offset="1" stop-color="#eaeaea"/></linearGradient>
<linearGradient id="dpg384" x1="0" y1="0" x2="1" y2="1"><stop offset="0" stop-color="#d4d4d4"/><stop offset="1" stop-color="#bdbdbd"/></linearGradient>
<linearGradient id="scr384" x1="0" y1="0" x2="0" y2="1"><stop offset="0" stop-color="#8c8c8c"/><stop offset="1" stop-color="#9d9d9d"/></linearGradient>
</defs>
<!-- meter body -->
<rect x="618.6" y="263.6" width="68.3" height="76" rx="4" fill="url(#mbg384)" stroke="#dcdcdc" stroke-width="0.6"/>
<circle cx="622.3" cy="267.4" r="2.6" fill="#f0f0f0" stroke="#d6d6d6" stroke-width="0.6"/>
<circle cx="683.2" cy="267.4" r="2.6" fill="#f0f0f0" stroke="#d6d6d6" stroke-width="0.6"/>
<rect x="630.4" y="268.2" width="44.7" height="40.1" rx="2.5" fill="url(#dpg384)" stroke="#8a8a8a" stroke-width="0.6"/>
<rect x="631" y="268.4" width="43.5" height="1.2" fill="#5a5a5a"/>
<g fill="#1e1e1e"><rect x="639.8" y="275" width="2" height="1.7"/><rect x="642.6" y="275" width="2" height="1.7"/><rect x="645.4" y="275" width="2" height="1.7"/><rect x="648.2" y="275" width="2" height="1.7"/><rect x="651" y="275" width="2" height="1.7"/><rect x="653.8" y="275" width="2" height="1.7"/><rect x="656.6" y="275" width="2" height="1.7"/><rect x="659.4" y="275" width="2" height="1.7"/><rect x="662.2" y="275" width="2" height="1.7"/><rect x="665" y="275" width="1.8" height="1.7"/></g>
<rect x="641.5" y="278.4" width="22.5" height="0.9" fill="#6a6a6a"/>
<rect x="636" y="282.1" width="30.8" height="16.7" fill="#97a288" stroke="#6e7864" stroke-width="0.5"/><rect x="636.2" y="282.3" width="30.4" height="1.3" fill="#4f5947"/>
<g fill="#2e2e2e"><rect x="642.3" y="284.6" width="1.5" height="1.4"/><rect x="645" y="284.6" width="1.5" height="1.4"/><rect x="654.5" y="284.6" width="1.5" height="1.4"/><rect x="657" y="284.6" width="1.5" height="1.4"/><rect x="661" y="284.6" width="3" height="1.4" opacity="0.7"/></g>
<text x="665" y="294.2" text-anchor="end" font-family="Liberation Sans" font-weight="bold" font-size="8.2" fill="#141414" letter-spacing="-0.9">2000</text>
<g fill="#9a9a9a"><circle cx="633.2" cy="287.5" r="0.9"/><rect x="632.8" y="290" width="0.8" height="1.6"/><circle cx="633.2" cy="294.2" r="0.9"/></g>
<path d="M668.8 289.3 L670.3 289.3 L672 288 L672 293 L670.3 291.7 L668.8 291.7Z" fill="#6fa8ee"/>
<g fill="#333"><rect x="644.6" y="301.3" width="1.2" height="0.9"/><rect x="646.8" y="301.3" width="1.2" height="0.9"/><rect x="654" y="301.3" width="1.2" height="0.9"/><rect x="656.2" y="301.3" width="1.2" height="0.9"/></g>
<circle cx="646.5" cy="305.3" r="1.8" fill="#0d0d0d"/><circle cx="655.9" cy="305.3" r="1.8" fill="#0d0d0d"/>
<rect x="662.4" y="302.8" width="4.5" height="4.5" rx="0.6" fill="#23a152"/><rect x="667.6" y="302.8" width="4.5" height="4.5" rx="0.6" fill="#1f76ea"/>
<!-- label plate -->
<rect x="623.2" y="313.7" width="56.5" height="22.1" rx="3" fill="#d3d3d3" stroke="#bdbdbd" stroke-width="0.6"/>
<rect x="629.3" y="316.2" width="12.3" height="12.7" rx="0.8" fill="#fff"/>
<g fill="#161616"><rect x="631.00" y="317.70" width="1.45" height="1.5"/><rect x="631.00" y="319.20" width="1.45" height="1.5"/><rect x="631.00" y="320.70" width="1.45" height="1.5"/><rect x="631.00" y="322.20" width="1.45" height="1.5"/><rect x="631.00" y="323.70" width="1.45" height="1.5"/><rect x="631.00" y="325.20" width="1.45" height="1.5"/><rect x="632.45" y="317.70" width="1.45" height="1.5"/><rect x="632.45" y="325.20" width="1.45" height="1.5"/><rect x="633.90" y="317.70" width="1.45" height="1.5"/><rect x="633.90" y="325.20" width="1.45" height="1.5"/><rect x="635.35" y="317.70" width="1.45" height="1.5"/><rect x="635.35" y="325.20" width="1.45" height="1.5"/><rect x="636.80" y="317.70" width="1.45" height="1.5"/><rect x="638.25" y="317.70" width="1.45" height="1.5"/><rect x="638.25" y="319.20" width="1.45" height="1.5"/><rect x="638.25" y="320.70" width="1.45" height="1.5"/><rect x="638.25" y="323.70" width="1.45" height="1.5"/><rect x="638.25" y="325.20" width="1.45" height="1.5"/></g>
<rect x="632.3" y="320.5" width="5.5" height="5.3" fill="#111"/><rect x="633.3" y="321.5" width="3.5" height="3.3" fill="#fff"/><rect x="634.4" y="322.6" width="1.6" height="0.9" fill="#111"/>
<g font-family="Liberation Sans" font-size="2.5" fill="#2a2a2a" stroke="#2a2a2a" stroke-width="0.15"><text x="644.8" y="320.3">DDSD-R1/11型</text><text x="644.8" y="324.1">220V</text><text x="653.5" y="324.1">60A</text><text x="644.8" y="327.8">50Hz</text><text x="650.5" y="327.8">1600imp</text></g>
<text x="628.3" y="333.4" font-family="Liberation Sans" font-size="3" font-weight="bold" font-style="italic" fill="#d8232b">Delixi</text><rect x="638.3" y="331.5" width="3" height="1.5" fill="#2a6ad8"/>
<text x="643" y="333.3" font-family="Liberation Sans" font-size="2.6" font-weight="bold" fill="#222" stroke="#222" stroke-width="0.3" textLength="31" lengthAdjust="spacingAndGlyphs">浙江德力西电表有限公司</text>
<circle cx="682.8" cy="325" r="3.6" fill="#f7f7f7" stroke="#b8b8b8" stroke-width="0.7"/>
<!-- terminal -->
<rect x="623.2" y="338.4" width="62.6" height="18.6" rx="1" fill="#111"/>
<rect x="680.4" y="338.4" width="6.2" height="14" fill="#3a63c6"/>
<rect x="684" y="351" width="2.6" height="3" fill="#ddd"/>
<rect x="647.5" y="341.5" width="8.5" height="13.5" rx="3" fill="none" stroke="#4a4a4a" stroke-width="0.9"/>
<rect x="649.5" y="347" width="4.5" height="2" fill="#333"/>
<g fill="#3a3a3a"><rect x="633" y="344.5" width="2.5" height="4"/><rect x="640" y="344" width="1.5" height="5"/><rect x="660" y="344" width="1.5" height="5"/><rect x="667" y="343.5" width="2.5" height="2"/><rect x="671.5" y="343.5" width="2.5" height="2"/><rect x="667" y="348" width="7" height="1.2"/></g>
<g fill="#555"><circle cx="657.5" cy="339.8" r="0.8"/><circle cx="660.5" cy="339.8" r="0.8"/></g>
<!-- phone -->
<rect x="589" y="293.1" width="33.9" height="69" rx="4" fill="#161616"/>
<rect x="590" y="294.1" width="31.9" height="67" rx="3.2" fill="#1b1b1b"/>
<path d="M590 308.5 L590 297.3 Q590 294.1 593.2 294.1 L618.7 294.1 Q621.9 294.1 621.9 297.3 L621.9 308.5Z" fill="#8d8d8d"/>
<rect x="600.5" y="294.1" width="20.5" height="9.5" rx="1.2" fill="#727272"/>
<circle cx="592.8" cy="297.5" r="0.9" fill="#eee"/>
<circle cx="620.5" cy="298.3" r="1.2" fill="#111"/>
<rect x="590" y="308.5" width="31.9" height="32" fill="#9c9c9c"/>
<rect x="590" y="308.5" width="31.9" height="1.5" fill="#adadad"/>
<rect x="600" y="313.3" width="14" height="15.6" rx="0.8" fill="#d2d2d2"/>
<rect x="601.2" y="314.5" width="11.6" height="13.2" fill="#e6e6e6"/>
<g fill="#1d1d1d"><rect x="601.50" y="316.90" width="1.83" height="2.1"/><rect x="601.50" y="321.10" width="1.83" height="2.1"/><rect x="601.50" y="323.20" width="1.83" height="2.1"/><rect x="601.50" y="325.30" width="1.83" height="2.1"/><rect x="603.33" y="314.80" width="1.83" height="2.1"/><rect x="605.16" y="314.80" width="1.83" height="2.1"/><rect x="605.16" y="325.30" width="1.83" height="2.1"/><rect x="606.99" y="314.80" width="1.83" height="2.1"/><rect x="606.99" y="325.30" width="1.83" height="2.1"/><rect x="608.82" y="314.80" width="1.83" height="2.1"/><rect x="608.82" y="325.30" width="1.83" height="2.1"/><rect x="610.65" y="314.80" width="1.83" height="2.1"/><rect x="610.65" y="316.90" width="1.83" height="2.1"/><rect x="610.65" y="319.00" width="1.83" height="2.1"/><rect x="610.65" y="321.10" width="1.83" height="2.1"/><rect x="610.65" y="323.20" width="1.83" height="2.1"/><rect x="610.65" y="325.30" width="1.83" height="2.1"/></g>
<rect x="604" y="317.3" width="6" height="8.2" fill="#1a1a1a"/><rect x="605.2" y="318.6" width="3.6" height="5.6" fill="#fafafa"/>
<rect x="590.5" y="320.2" width="30.5" height="1.6" fill="#6ee3bf" opacity="0.85"/>
<rect x="590.5" y="319.2" width="30.5" height="3.6" fill="#6ee3bf" opacity="0.25"/>
<rect x="598.3" y="332" width="10" height="1.6" fill="#d42a2a"/>
<rect x="609.4" y="332" width="4" height="1.6" fill="#3070d8"/>
<rect x="616.3" y="331.2" width="3.2" height="3.2" fill="#111"/>
<rect x="590" y="340.5" width="31.9" height="20" fill="#0e0e0e"/>
<rect x="590" y="340.5" width="3.5" height="7" fill="#2c4b8c"/>
<g fill="#4a4a4a"><rect x="605" y="355" width="2.6" height="1.3"/><rect x="610" y="355" width="2.6" height="1.3"/><rect x="615" y="355" width="2.6" height="1.3"/><rect x="618.5" y="348" width="2" height="2"/></g>
<!-- hand -->
<path d="M576.3 375 L576.4 352 Q576.5 345.5 579.8 341.5 L585.5 334 Q587.5 331.5 589.2 331 L589.2 351.8 L595.4 347.2 L604.9 337.7 Q607.8 335.5 610.4 335.9 Q613.3 336.5 613 338.8 Q612.7 340.6 611 342.2 L605.9 347.6 L601 353.6 Q599 357.5 598.7 360.5 L600.2 362.4 Q602 366 602.3 375Z" fill="#f6dccb"/>
<path d="M576.3 375 L576.4 352 Q576.5 345.5 579.8 341.5 L581 340 Q579 346 579 352 L579 375Z" fill="#efcdb8"/>
<path d="M604.9 337.7 Q607.8 335.5 610.4 335.9 Q613.3 336.5 613 338.8 Q611 337.2 607.5 338.2Z" fill="#fbe6d8"/>
<ellipse cx="625" cy="338.7" rx="3.4" ry="2.3" fill="#f2cdb6"/>
<ellipse cx="626" cy="344.4" rx="3.7" ry="2.8" fill="#f2cdb6"/>
<ellipse cx="625.2" cy="352.2" rx="2.8" ry="3.4" fill="#f2cdb6"/>
<rect x="621.9" y="336" width="1.2" height="20" fill="#161616"/>
</svg>
<div class="lbl" style="left:600px;top:380px">扫码充值</div>
<div class="lbl" style="left:600px;top:572px">扫码充值</div>
<div class="lbl" style="left:600px;top:764px">扫码充值</div>

<div class="a" style="left:0;top:0px;width:750px;height:1px">
<div class="bti" style="left:428px;top:279.2px">
<svg width="29" height="29" viewBox="0 0 29 29"><path d="M9.9 10.3 L19 18.9 L14.3 23.3 L14.3 5.8 L19 10.2 L9.9 18.8" fill="none" stroke="#fff" stroke-width="2" stroke-linejoin="round" stroke-linecap="round"/></svg>
</div>
<div class="btx" style="left:461.6px;top:283.5px">Bluetooth</div>
<div class="bl a" style="left:396.6px;top:313.8px;width:167.39999999999998px;height:1.6px"></div>
<svg class="a" style="left:389.6px;top:309.5px" width="9" height="10"><path d="M1 5 L8 1.2 L8 8.8Z" fill="#0a63dc"/></svg>
<div class="bl a" style="left:393.1px;top:320.7px;width:167.39999999999998px;height:1.6px"></div>
<svg class="a" style="left:557px;top:316.5px" width="9" height="10"><path d="M8 5 L1 1.2 L1 8.8Z" fill="#0a63dc"/></svg>
<div class="rt" style="left:397px;top:326px;width:170px;letter-spacing:0.7px">无障碍10米以内</div>
</div>
<div class="a" style="left:0;top:192px;width:750px;height:1px">
<div class="bti" style="left:428px;top:279.2px">
<svg width="29" height="29" viewBox="0 0 29 29"><path d="M9.9 10.3 L19 18.9 L14.3 23.3 L14.3 5.8 L19 10.2 L9.9 18.8" fill="none" stroke="#fff" stroke-width="2" stroke-linejoin="round" stroke-linecap="round"/></svg>
</div>
<div class="btx" style="left:461.6px;top:282.9px">Bluetooth</div>
<div class="bl a" style="left:396.6px;top:313.8px;width:167.39999999999998px;height:1.6px"></div>
<svg class="a" style="left:389.6px;top:309.5px" width="9" height="10"><path d="M1 5 L8 1.2 L8 8.8Z" fill="#0a63dc"/></svg>
<div class="bl a" style="left:393.1px;top:320.7px;width:167.39999999999998px;height:1.6px"></div>
<svg class="a" style="left:557px;top:316.5px" width="9" height="10"><path d="M8 5 L1 1.2 L1 8.8Z" fill="#0a63dc"/></svg>
<div class="rt" style="left:397px;top:326px;width:170px;letter-spacing:0.7px">无障碍10米以内</div>
</div>
<div class="a" style="left:0;top:384px;width:750px;height:1px">
<div class="bti" style="left:450.5px;top:279.2px">
<svg width="29" height="29" viewBox="0 0 29 29"><path d="M9.9 10.3 L19 18.9 L14.3 23.3 L14.3 5.8 L19 10.2 L9.9 18.8" fill="none" stroke="#fff" stroke-width="2" stroke-linejoin="round" stroke-linecap="round"/></svg>
</div>
<div class="btx" style="left:484.1px;top:282.9px">Bluetooth</div>
<div class="bl a" style="left:435.4px;top:313.8px;width:133.20000000000005px;height:1.6px"></div>
<svg class="a" style="left:428.4px;top:309.5px" width="9" height="10"><path d="M1 5 L8 1.2 L8 8.8Z" fill="#0a63dc"/></svg>
<div class="bl a" style="left:431.9px;top:320.7px;width:133.20000000000005px;height:1.6px"></div>
<svg class="a" style="left:561.6px;top:316.5px" width="9" height="10"><path d="M8 5 L1 1.2 L1 8.8Z" fill="#0a63dc"/></svg>
<div class="rt" style="left:426.5px;top:326px;width:160px;letter-spacing:0.2px">有障碍3米以内</div>
</div>

<svg class="a" style="left:380px;top:646px" width="39" height="109"><rect x="1.8" y="1.8" width="35" height="105" rx="5" fill="none" stroke="#0a64e0" stroke-width="1.6" stroke-dasharray="5 3"/></svg>
<div class="obt">障碍物</div>
</div>
</body>
</html>
